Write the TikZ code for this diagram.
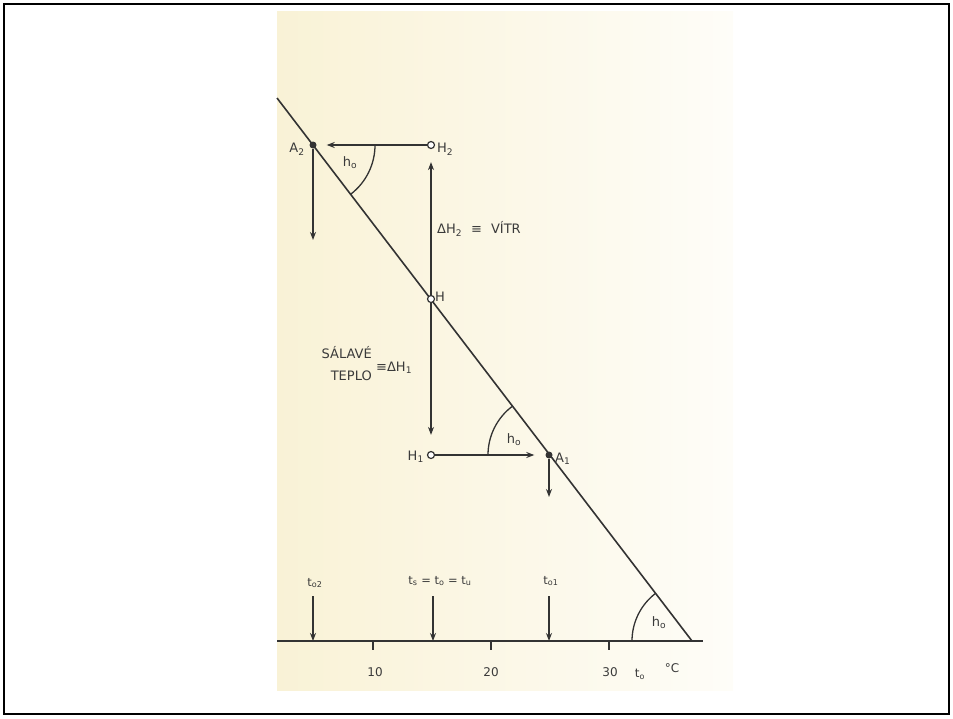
\documentclass[tikz,border=0pt]{standalone}
\usepackage{fontspec}
\setmainfont{DejaVu Sans}
\usetikzlibrary{arrows.meta}
\definecolor{ink}{HTML}{333333}
\definecolor{txt}{HTML}{3A3A3A}
\definecolor{paperL}{HTML}{F9F2D6}
\definecolor{paperR}{HTML}{FEFDF8}
\begin{document}
\begin{tikzpicture}[x=1pt,y=-1pt,
  ln/.style={draw=ink,line width=1.6pt},
  arcln/.style={draw=ink,line width=1.3pt},
  arr/.style={ln,-{Stealth[length=8pt,width=6pt]}},
  opt/.style={circle,draw=ink,fill=white,line width=1.2pt,inner sep=0pt,minimum size=7pt},
  dot/.style={circle,fill=ink,inner sep=0pt,minimum size=7pt},
  lbl/.style={text=txt,font=\fontsize{13}{15}\selectfont,inner sep=1pt},
  hlbl/.style={text=txt,font=\fontsize{13}{15}\selectfont,inner sep=1pt},
  num/.style={text=txt,font=\fontsize{12}{14}\selectfont,inner sep=1pt},
  sml/.style={text=txt,font=\fontsize{11.5}{13}\selectfont,inner sep=1pt}
]
\useasboundingbox (0,0) rectangle (953,718);
\shade[left color=paperL,right color=paperR] (277,11) rectangle (733,690);
\draw[line width=2.6pt] (4,4) rectangle (949,714);

% main diagonal
\coordinate (T) at (277,98);
\coordinate (X) at (692,641);
\draw[ln] (T) -- (X);

% axis
\coordinate (ax0) at (277,641);
\coordinate (ax1) at (703,641);
\draw[ln] (ax0) -- (ax1);
\foreach \xx/\nm in {373/a,491/b,609/c}{
  \coordinate (tk\nm) at (\xx,641);
  \coordinate (tk\nm b) at (\xx,650);
  \draw[ln] (tk\nm) -- (tk\nm b);
}

% points
\node[dot] (A2) at (313,145) {};
\node[opt] (H2) at (431,145) {};
\node[opt] (H) at (431,299) {};
\node[opt] (H1) at (431,455) {};
\node[dot] (A1) at (549,455) {};

% connectors
\draw[arr,shorten >=10pt] (H2) -- (A2);
\draw[arr,shorten >=13pt] (H) -- (H2);
\draw[arr,shorten >=16pt] (H) -- (H1);
\draw[arr,shorten >=11pt] (H1) -- (A1);
\coordinate (A2d) at (313,240);
\draw[arr] (A2) -- (A2d);
\coordinate (A1d) at (549,497);
\draw[arr] (A1) -- (A1d);

% axis arrows
\coordinate (s1) at (313,596); \coordinate (e1) at (313,641);
\coordinate (s2) at (433,596); \coordinate (e2) at (433,641);
\coordinate (s3) at (549,596); \coordinate (e3) at (549,641);
\draw[arr] (s1) -- (e1);
\draw[arr] (s2) -- (e2);
\draw[arr] (s3) -- (e3);

% angle arcs
\draw[arcln] ([xshift=62pt]A2.center) arc[start angle=0,end angle=52.6,radius=62];
\draw[arcln] ([xshift=-61pt]A1.center) arc[start angle=180,end angle=232.6,radius=61];
\draw[arcln] ([xshift=-60pt]X) arc[start angle=180,end angle=232.6,radius=60];

% labels
\node[lbl] (lA2) at (297,149) {A\textsubscript{2}};
\node[lbl,anchor=west] (lH2) at (436,149) {H\textsubscript{2}};
\node[hlbl] (lh1) at (350,163) {h\textsubscript{o}};
\node[lbl,anchor=west] (lvitr) at (436,229) {ΔH\textsubscript{2}\hspace{9pt}≡\hspace{9pt}VÍTR};
\node[lbl,anchor=west] (lH) at (434,297) {H};
\node[lbl,anchor=east] (lsal) at (373,353) {SÁLAVÉ};
\node[lbl,anchor=east] (ltep) at (373,376) {TEPLO};
\node[lbl,anchor=west] (ldh1) at (375,368) {≡ΔH\textsubscript{1}};
\node[lbl,anchor=east] (lH1) at (425,457) {H\textsubscript{1}};
\node[lbl,anchor=west] (lA1) at (554,459) {A\textsubscript{1}};
\node[hlbl] (lh2) at (514,440) {h\textsubscript{o}};
\node[hlbl] (lh3) at (659,623) {h\textsubscript{o}};

\node[sml] (lto2) at (315,583) {t\textsubscript{o2}};
\node[sml] (ltm) at (440,581) {t\textsubscript{s} = t\textsubscript{o} = t\textsubscript{u}};
\node[sml] (lto1) at (551,581) {t\textsubscript{o1}};

\node[num] (n10) at (375,672) {10};
\node[num] (n20) at (491,672) {20};
\node[num] (n30) at (610,672) {30};
\node[num] (nto) at (640,674) {t\textsubscript{o}};
\node[num] (ndeg) at (672,668) {°C};
\end{tikzpicture}
\end{document}
